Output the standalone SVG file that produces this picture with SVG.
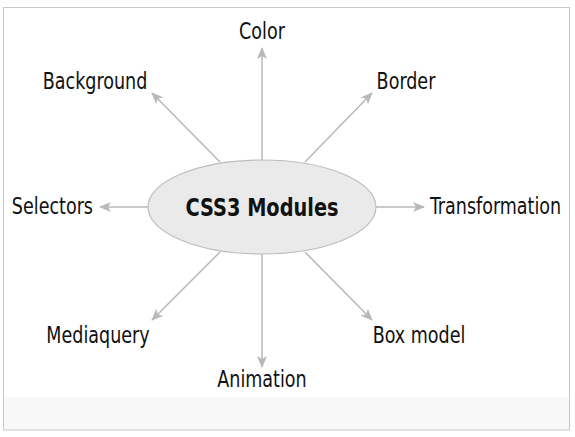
<svg xmlns="http://www.w3.org/2000/svg" width="575" height="437" viewBox="0 0 575 437">
<defs>
<style>
.lbl{font-family:"DejaVu Sans Condensed","DejaVu Sans",sans-serif;font-size:19.5px;fill:#111;}
.title{font-family:"DejaVu Sans Condensed","DejaVu Sans",sans-serif;font-size:21.5px;font-weight:bold;fill:#111;}
.edge{stroke:#b8b8b8;stroke-width:1.5;fill:none;marker-end:url(#arr);}
</style>
<marker id="arr" viewBox="0 0 12 10" refX="11" refY="5" markerWidth="12" markerHeight="10" markerUnits="userSpaceOnUse" orient="auto">
<path d="M0,0 L12,5 L0,10 L3,5 Z" fill="#b8b8b8"/>
</marker>
</defs>
<rect x="0" y="0" width="575" height="437" fill="#fff"/>
<rect x="4" y="397" width="566" height="33" fill="#f8f8f8"/>
<rect x="3.5" y="7.5" width="566" height="422.5" fill="none" stroke="#c8c8c8" stroke-width="1"/>
<g id="connectors">
<line class="edge" x1="262" y1="160" x2="262" y2="48"/>
<line class="edge" x1="220" y1="162" x2="152" y2="93"/>
<line class="edge" x1="305" y1="162" x2="372" y2="93"/>
<line class="edge" x1="148" y1="207" x2="100" y2="207"/>
<line class="edge" x1="376" y1="207" x2="424" y2="207"/>
<line class="edge" x1="220" y1="252" x2="152" y2="320"/>
<line class="edge" x1="305" y1="252" x2="372" y2="320"/>
<line class="edge" x1="262" y1="254" x2="262" y2="367"/>
</g>
<g id="center">
<ellipse cx="262" cy="207" rx="114" ry="47" fill="#eaeaea" stroke="#bdbdbd" stroke-width="1.2"/>
<text class="title" transform="translate(262,216) scale(1,1.15)" text-anchor="middle">CSS3 Modules</text>
</g>
<g id="color"><text class="lbl" transform="translate(262,38.5) scale(1,1.15)" text-anchor="middle">Color</text></g>
<g id="background"><text class="lbl" transform="translate(95,88.5) scale(1,1.15)" text-anchor="middle">Background</text></g>
<g id="border"><text class="lbl" transform="translate(406,88.5) scale(1,1.15)" text-anchor="middle">Border</text></g>
<g id="selectors"><text class="lbl" transform="translate(93,213.5) scale(1,1.15)" text-anchor="end">Selectors</text></g>
<g id="transformation"><text class="lbl" transform="translate(430,213.5) scale(1,1.15)">Transformation</text></g>
<g id="mediaquery"><text class="lbl" transform="translate(98,342.5) scale(1,1.15)" text-anchor="middle">Mediaquery</text></g>
<g id="boxmodel"><text class="lbl" transform="translate(419,342.5) scale(1,1.15)" text-anchor="middle">Box model</text></g>
<g id="animation"><text class="lbl" transform="translate(262,386.5) scale(1,1.15)" text-anchor="middle">Animation</text></g>
</svg>
